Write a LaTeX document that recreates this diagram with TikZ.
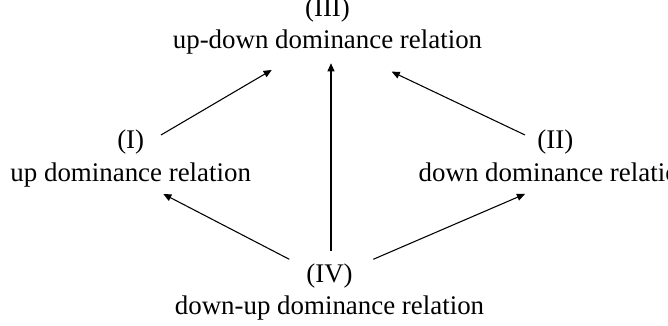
\documentclass[tikz,border=0pt]{standalone}
\usepackage{fontspec}
\setmainfont{Liberation Serif}
\usetikzlibrary{positioning, arrows.meta}

\tikzset{
    relnum/.style={anchor=base, inner sep=0pt},
    reltext/.style={below=12pt of #1, anchor=base, inner sep=0pt},
    relarrow/.style={-{Triangle[length=3pt,width=2.6pt]}, line width=0.4pt}
}

\begin{document}
\begin{tikzpicture}[x=0.3717pt, y=-0.3717pt, font=\fontsize{10pt}{12pt}\selectfont]
    \useasboundingbox (0,0) rectangle (668,326);

    \node[relnum] (nIII) at (327.5,16.5) {(III)};
    \node[reltext=nIII.base] (tIII) {up-down dominance relation};

    \node[relnum] (nI) at (130.7,149) {(I)};
    \node[reltext=nI.base] (tI) {up dominance relation};

    \node[relnum] (nII) at (555.4,149) {(II)};
    \node[reltext=nII.base] (tII) {down dominance relation};

    \node[relnum] (nIV) at (329.5,282.5) {(IV)};
    \node[reltext=nIV.base] (tIV) {down-up dominance relation};

    % towards (III)
    \draw[relarrow] ([shift={(30.3,-14)}]nI.base) -- ([shift={(-55.8,21.2)}]tIII.base);
    \draw[relarrow] ([shift={(-30.4,-14)}]nII.base) -- ([shift={(64.2,22.9)}]tIII.base);
    \draw[relarrow] ([shift={(1.5,-31.8)}]nIV.base) -- ([shift={(3.5,14.5)}]tIII.base);

    % from (IV)
    \draw[relarrow] ([shift={(-40.2,-23.2)}]nIV.base) -- ([shift={(32.6,12.7)}]tI.base);
    \draw[relarrow] ([shift={(43.8,-23.2)}]nIV.base) -- ([shift={(-30.4,12.7)}]tII.base);
\end{tikzpicture}
\end{document}
